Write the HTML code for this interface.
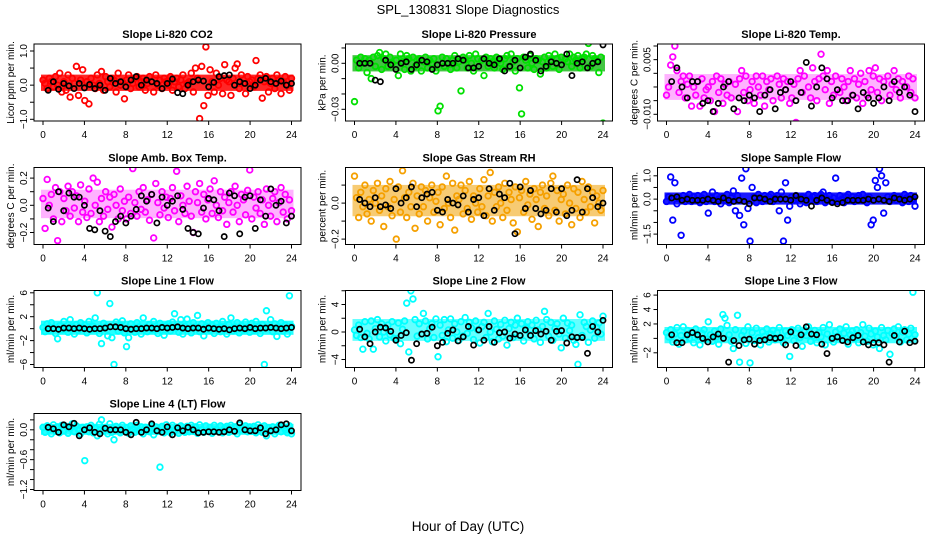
<!DOCTYPE html>
<html><head><meta charset="utf-8">
<style>
html,body{margin:0;padding:0;background:#fff;}
svg{display:block;font-family:"Liberation Sans",Arial,sans-serif;}
</style></head>
<body>
<svg id="chart" width="936" height="540" viewBox="0 0 936 540" xmlns="http://www.w3.org/2000/svg">
<rect x="0" y="0" width="936" height="540" fill="#fff"/>
<text x="468" y="14" text-anchor="middle" font-size="13">SPL_130831  Slope Diagnostics</text>
<text x="468" y="531" text-anchor="middle" font-size="13.5">Hour of Day (UTC)</text>
</svg>
<script>
// ---------- data ----------
const xTicks = [0,4,8,12,16,20,24];
const panelTitles = ["Slope Li-820 CO2","Slope Li-820 Pressure","Slope Li-820 Temp.","Slope Amb. Box Temp.","Slope Gas Stream RH","Slope Sample Flow","Slope Line 1 Flow","Slope Line 2 Flow","Slope Line 3 Flow","Slope Line 4 (LT) Flow"];
const yTitles = ["Licor ppm per min.","kPa per min.","degrees C per min.","degrees C per min.","percent per min.","ml/min per min.","ml/min per min.","ml/min per min.","ml/min per min.","ml/min per min."];
const yTickVals = [[-1,-0.5,0,0.5,1],[-0.03,-0.02,-0.01,0,0.01],[-0.010,-0.005,0,0.005,0.010,0.015],[-0.2,-0.1,0,0.1,0.2],[-0.2,-0.1,0,0.1],[-1.5,-1,-0.5,0,0.5,1],[-6,-4,-2,0,2,4,6],[-4,-2,0,2,4,6],[-2,0,2,4,6],[-1.2,-1,-0.8,-0.6,-0.4,-0.2,0,0.2]];
const yTickLabels = [["−1.0","","0.0","","1.0"],["−0.03","","","0.00",""],["−0.010","","","","0.005",""],["−0.2","","0.0","","0.2"],["−0.2","","0.0",""],["−1.5","","","0.0","","1.0"],["−6","","−2","","2","","6"],["−4","","0","","4",""],["−2","","2","4","6"],["−1.2","","","−0.6","","","0.0",""]];

const co2Color = [0.15,0.05,-0.1,0.2,0.1,-0.05,0.25,0.0,0.35,-0.2,0.1,-0.15,0.3,-0.35,0.2,0.05,0.55,-0.3,0.15,0.45,-0.45,0.1,-0.55,0.2,0.0,-0.1,0.3,0.05,0.4,-0.15,0.25,0.1,-0.05,0.2,0.15,-0.2,0.35,0.0,0.1,-0.4,0.15,0.3,-0.1,0.05,0.2,0.25,-0.05,0.1,0.2,-0.15,0.05,0.25,0.1,-0.2,0.3,0.0,0.15,-0.1,0.2,0.1,0.0,0.25,-0.15,0.1,0.2,-0.05,0.15,0.3,-0.1,0.05,0.1,0.35,-0.2,0.5,0.2,-0.98,0.55,-0.6,1.12,-0.3,0.45,0.1,-0.2,0.35,0.0,0.2,-0.25,0.6,0.15,0.1,-0.3,0.2,0.5,0.62,-0.1,0.3,0.05,-0.25,0.25,0.1,0.15,-0.05,0.72,0.2,0.3,-0.38,0.1,0.25,-0.2,0.05,0.2,-0.1,0.3,0.15,-0.25,0.1,0.25,0.0,-0.15,0.2];
const co2Black = [-0.15,0.1,-0.12,0.05,-0.02,-0.1,0.05,-0.08,0.02,-0.1,0.0,-0.15,0.2,0.05,0.1,-0.05,0.15,0.25,0.0,0.15,0.1,0.05,-0.1,0.05,0.18,-0.22,-0.25,0.0,0.1,0.15,0.12,-0.05,0.08,0.25,0.28,0.3,0.0,0.1,0.05,-0.1,0.0,0.15,0.2,0.1,0.05,0.12,0.0,0.05];
const presColor = [-0.025,0.002,-0.003,0.004,0.0,0.003,-0.006,0.002,-0.01,0.004,-0.002,0.005,0.007,-0.004,0.003,0.006,-0.002,0.004,0.0,-0.04,0.002,-0.008,0.006,0.001,-0.004,0.005,0.003,-0.005,0.004,-0.002,0.002,0.003,-0.005,0.001,0.004,-0.003,0.002,0.0,0.003,-0.005,-0.031,-0.028,0.004,-0.002,0.003,0.0,-0.004,0.002,0.005,-0.003,0.001,-0.018,0.004,0.002,-0.003,0.005,0.0,-0.005,0.006,0.003,-0.04,0.002,-0.008,0.004,-0.002,0.003,0.001,-0.003,0.004,0.002,0.0,-0.004,0.003,0.005,-0.002,0.006,0.001,-0.005,0.003,-0.016,-0.033,0.004,0.002,-0.003,0.005,0.0,-0.004,0.003,0.002,-0.007,0.001,0.004,-0.003,0.005,0.002,-0.002,0.006,0.003,-0.004,0.004,-0.04,0.003,0.001,0.006,-0.002,0.004,0.002,0.005,-0.003,0.003,0.004,0.006,0.013,-0.002,0.005,0.003,0.002,-0.006,0.004,-0.039];
const presBlack = [0.0,0.0,0.0,-0.011,-0.012,0.002,-0.001,-0.004,0.0,0.001,-0.004,-0.001,0.002,0.001,-0.004,-0.001,0.0,0.0,0.0,0.003,0.002,-0.003,-0.003,-0.002,0.003,0.0,-0.001,0.003,-0.005,-0.002,0.002,-0.003,0.004,0.006,0.002,-0.005,-0.002,0.001,0.0,-0.001,0.006,-0.008,0.0,0.001,-0.003,0.0,0.001,0.012];
const tempColor = [-0.003,0.0,0.008,0.011,0.015,0.006,-0.002,0.002,0.004,-0.004,0.001,0.004,-0.007,0.0,-0.003,0.002,-0.007,0.003,-0.004,-0.001,0.0,-0.005,0.002,-0.009,0.004,-0.002,0.003,-0.006,0.001,-0.003,0.002,-0.004,-0.015,0.001,-0.009,0.003,0.006,-0.002,0.004,-0.005,-0.001,0.002,-0.006,0.004,0.0,-0.003,0.004,-0.007,0.002,-0.001,0.003,-0.005,-0.015,0.004,0.001,-0.004,0.003,-0.001,0.002,-0.006,-0.004,0.001,-0.013,0.003,0.006,-0.002,0.004,-0.014,0.0,-0.004,0.007,0.002,-0.005,0.003,0.012,0.004,-0.001,0.006,-0.006,0.002,-0.003,0.004,-0.014,-0.002,0.003,0.0,-0.005,0.002,0.006,-0.003,0.003,-0.004,0.001,0.005,-0.006,0.002,-0.003,0.006,-0.001,0.004,0.007,-0.002,0.003,-0.005,0.002,-0.014,0.004,-0.003,0.001,0.006,-0.001,0.003,-0.004,0.002,-0.014,0.0,0.004,-0.002,0.003,-0.004];
const tempBlack = [0.002,0.007,0.0,-0.004,0.002,0.002,-0.006,-0.005,-0.009,-0.006,0.0,0.002,-0.008,-0.004,-0.005,-0.003,-0.004,-0.009,-0.003,-0.001,-0.008,-0.002,-0.001,0.002,-0.005,-0.002,0.009,-0.007,0.0,0.007,0.003,-0.004,-0.001,-0.005,-0.005,-0.003,-0.008,-0.002,-0.004,-0.006,-0.004,0.0,-0.005,0.002,-0.002,0.0,-0.003,-0.009];
const ambColor = [0.05,-0.17,0.19,0.0,0.08,-0.1,0.13,-0.26,0.1,-0.12,0.05,-0.04,0.14,-0.08,0.1,-0.02,0.07,-0.12,0.15,-0.05,0.03,-0.09,0.12,-0.06,0.2,0.0,0.17,-0.12,0.05,-0.08,0.1,-0.03,0.06,-0.16,0.08,0.0,-0.1,0.12,-0.04,0.03,-0.1,0.06,-0.06,0.27,0.02,-0.08,0.1,-0.03,0.13,-0.05,0.04,-0.11,0.08,-0.24,0.16,0.02,-0.07,0.1,-0.02,0.06,-0.09,0.05,0.13,-0.04,0.25,-0.12,0.07,0.0,-0.06,0.14,0.03,-0.08,-0.2,0.1,0.02,0.16,-0.05,0.08,-0.1,0.04,0.12,-0.06,0.18,0.0,-0.09,0.1,-0.04,0.06,-0.14,0.02,0.1,-0.05,0.14,0.0,-0.12,0.08,0.04,-0.07,0.11,0.26,-0.1,0.06,-0.02,0.1,-0.06,0.04,-0.14,0.12,0.0,-0.08,0.05,0.1,-0.12,0.02,0.13,-0.05,0.08,-0.1,0.04,-0.04];
const ambBlack = [-0.02,-0.12,0.1,-0.04,0.09,0.06,0.06,0.0,-0.17,-0.18,-0.04,-0.19,-0.23,-0.12,-0.08,-0.13,-0.08,-0.03,0.07,0.03,0.08,-0.13,0.06,0.0,0.03,0.07,-0.03,-0.17,-0.2,-0.21,-0.02,0.05,0.04,-0.04,-0.23,0.09,0.07,-0.21,0.06,0.07,-0.17,0.04,-0.08,0.12,0.0,0.03,-0.13,-0.08];
const rhColor = [0.15,0.03,-0.08,0.06,-0.02,0.1,-0.06,0.02,-0.1,0.07,0.0,0.11,-0.04,0.04,-0.13,0.08,-0.02,0.12,-0.07,0.02,-0.2,0.09,-0.05,0.18,0.03,-0.08,0.06,-0.02,0.11,-0.14,0.04,-0.06,0.09,-0.02,0.07,-0.1,0.03,0.1,-0.05,0.01,0.06,-0.12,0.09,-0.03,0.15,0.0,-0.08,0.11,-0.15,0.04,0.02,0.1,-0.06,0.07,-0.03,0.12,-0.09,0.04,0.0,-0.05,0.08,-0.02,0.13,-0.07,0.04,0.17,-0.1,0.06,-0.02,0.09,0.0,-0.08,0.11,-0.04,0.06,0.02,-0.11,0.09,-0.16,0.03,0.07,-0.05,0.12,-0.01,0.05,-0.09,0.08,0.02,-0.13,0.06,0.1,-0.03,0.04,-0.07,0.11,0.15,-0.04,0.07,-0.1,0.02,0.05,-0.06,0.1,0.0,-0.12,0.08,-0.03,0.06,-0.08,0.12,0.02,-0.05,0.09,-0.02,0.06,-0.11,0.04,0.0,-0.04,0.07];
const rhBlack = [0.02,0.0,-0.02,0.03,-0.02,-0.01,-0.03,0.08,0.0,0.03,0.09,-0.02,0.03,0.05,0.06,-0.04,-0.05,0.02,0.0,-0.01,0.04,-0.05,0.02,0.03,-0.07,0.08,-0.04,0.05,0.03,0.11,-0.17,0.09,-0.03,0.07,-0.03,-0.06,-0.04,0.08,-0.05,0.08,-0.07,-0.04,0.13,-0.05,0.08,0.03,-0.02,0.0];
const sampColor = [-0.1,0.1,0.95,-0.9,0.7,-0.2,0.05,-1.55,0.15,-0.1,0.05,0.2,-0.1,0.1,-0.05,0.15,-0.15,0.05,0.2,-0.1,-0.6,0.05,0.3,-0.1,0.15,0.0,-0.2,0.1,-0.05,0.2,-0.15,0.05,0.35,-0.5,0.15,-0.7,0.9,-1.1,1.3,-0.4,-1.8,0.5,0.1,-0.15,0.2,0.0,-0.1,0.15,-0.05,0.1,0.2,-0.1,0.05,0.15,-0.5,0.3,-1.8,0.7,-0.9,-0.3,0.1,-0.05,0.15,0.0,-0.2,0.1,0.05,-0.15,0.2,-0.05,0.1,0.15,-0.1,0.05,0.2,0.3,-0.15,0.0,0.15,-0.1,0.05,0.9,-0.1,0.15,0.0,-0.15,0.1,0.2,-0.05,0.1,-0.1,0.05,0.15,-0.05,0.2,0.0,-0.15,0.1,-1.1,-0.9,0.8,0.5,1.3,1.0,-0.6,0.7,0.1,-0.1,0.05,0.15,-0.05,0.1,0.0,-0.15,0.2,0.05,-0.1,0.15,0.0,-0.3];
const sampBlack = [0.05,0.1,-0.05,0.0,-0.05,-0.05,-0.05,0.0,-0.05,-0.1,0.05,-0.05,-0.1,-0.05,-0.1,-0.2,0.05,0.05,0.0,-0.1,0.0,0.0,0.0,-0.05,0.15,0.0,-0.05,-0.3,-0.05,0.05,-0.05,-0.15,-0.2,-0.15,-0.05,-0.05,-0.05,-0.05,0.0,-0.05,0.0,-0.05,-0.1,0.05,0.0,-0.05,0.0,0.1];
const l1Color = [0.2,-0.5,0.8,-0.3,1.0,0.1,-0.8,-1.7,0.5,-0.2,1.2,0.0,-0.6,1.5,0.3,-0.9,0.7,-0.3,1.0,0.2,0.6,-0.7,1.2,-0.2,0.4,1.8,6.0,-0.8,-2.5,0.9,0.3,-1.2,4.2,-1.5,-6.0,1.1,-0.4,0.6,1.3,-0.7,-3.0,-1.5,0.8,0.0,-0.6,1.0,0.3,-0.9,1.8,0.2,-0.5,0.7,-0.2,1.2,0.0,-0.8,0.9,0.3,-1.1,0.5,0.8,-0.4,1.1,2.5,0.2,-0.6,1.5,-0.9,0.4,1.6,0.0,-0.7,1.0,0.3,2.2,-0.5,0.8,-1.2,0.4,1.0,-0.3,0.6,-0.8,0.9,0.2,-0.5,1.2,0.0,-0.9,0.7,1.8,-0.4,0.3,1.0,-0.7,0.5,-0.2,1.1,0.0,-0.6,0.9,-0.3,1.2,0.4,-0.8,0.7,-6.0,3.0,0.2,1.5,-0.5,0.8,-1.3,0.3,1.0,-0.4,0.6,-0.9,5.5,0.4];
const l1Black = [0,0,-0.1,0.1,0.1,0.0,0.1,0.0,-0.1,0.0,0.0,0.1,0.3,0.3,0.2,0.0,-0.1,0.0,0.0,0.1,0.1,0.0,0.2,0.1,0.2,0.3,0.1,0.0,0.1,0.1,-0.1,0.1,0.0,-0.1,0.0,-0.2,0.0,0.1,0.0,0.2,0.0,0.1,0.1,0.2,0.1,0.0,0.1,0.2];
const l2Color = [0.3,-0.5,1.0,-0.8,-2.5,1.5,-0.2,-1.0,1.6,-2.5,0.5,1.8,-0.7,1.2,0.0,-1.3,1.0,-0.4,1.5,-0.9,-1.0,1.3,-1.7,0.4,1.6,4.2,-2.9,6.0,4.8,1.8,-0.6,1.2,-0.3,2.7,1.6,-1.0,0.5,1.2,-0.8,1.9,-3.6,1.0,-0.5,1.8,-1.4,0.3,1.9,-0.9,1.2,0.0,-1.2,1.5,-0.6,2.1,-0.2,1.4,0.6,-1.1,1.6,0.3,-1.6,0.8,1.4,-0.8,2.7,0.0,-1.4,1.6,0.4,-1.0,1.1,-0.6,1.7,-1.9,0.5,1.4,-0.8,1.0,2.0,-0.5,1.2,-1.3,0.6,1.5,-0.4,1.0,-1.0,1.7,0.3,-1.5,0.8,3.0,1.8,-0.6,1.4,-1.2,0.5,1.2,-0.3,-2.3,2.0,-0.9,1.3,0.2,1.0,-1.2,-1.8,-4.7,2.5,-0.5,1.4,0.8,-1.5,0.3,1.6,-0.9,0.7,1.3,-0.3,2.3];
const l2Black = [0.4,-0.7,-1.7,0.0,0.7,0.6,0.1,-1.2,-0.5,-0.1,-4.1,-1.7,-0.3,-0.2,0.7,-2.0,-1.5,-0.2,0.3,-1.3,-0.7,0.8,-1.9,0.3,-1.2,0.8,-1.5,-0.1,0.0,-0.9,-0.3,-0.5,0.3,-0.5,0.2,-0.3,0.1,-1.2,0.1,0.2,-1.6,-0.7,-0.8,-0.8,-3.1,0.8,0.0,1.7];
const l3Color = [0.8,0.2,1.2,-0.5,0.6,1.5,-0.8,0.4,1.6,-0.2,1.1,0.0,0.9,-0.6,1.3,0.3,-0.9,0.7,1.2,-0.1,2.3,0.5,-0.4,1.0,0.2,-0.8,1.3,3.3,2.8,1.8,0.5,-0.4,-1.4,1.2,3.2,-3.3,0.4,1.0,-0.7,1.6,-3.4,0.8,-0.3,1.4,0.1,-0.9,0.9,0.3,1.3,-0.5,0.6,1.1,-0.2,0.8,1.5,0.0,-0.6,1.0,0.4,-2.5,1.2,-0.3,0.7,1.4,0.1,-1.1,0.9,0.4,1.6,-0.4,0.3,1.1,-0.6,0.8,0.2,1.5,-0.9,0.6,1.9,0.0,-0.5,0.9,0.3,1.3,-0.2,0.7,1.6,-0.8,0.5,1.0,0.0,1.2,-0.6,0.8,1.9,0.3,-0.4,1.4,0.6,-0.9,1.0,0.2,-1.4,1.5,0.4,-0.2,1.1,-2.2,0.7,1.3,0.3,1.6,-0.5,0.9,1.2,-0.2,0.6,1.4,6.4,0.5];
const l3Black = [0.5,-0.6,-0.6,0.5,0.8,0.5,0.0,-0.5,0.2,0.6,0.0,-3.3,-0.3,-1.0,-0.2,-0.1,-0.8,-0.3,-0.2,0.1,0.0,0.1,-0.9,0.9,-1.0,0.5,1.6,0.6,0.5,-0.8,-2.1,0.0,0.2,-0.3,-0.5,0.1,0.4,-0.5,-0.9,-0.6,-0.6,-0.9,-3.3,0.4,-0.5,1.0,-0.6,-0.4];
const l4Color = [0.05,-0.05,0.08,0.0,-0.08,0.1,-0.03,0.06,-0.06,0.09,-0.02,0.07,-0.07,0.03,0.12,-0.04,0.08,0.0,-0.08,0.05,-0.62,0.06,-0.04,0.09,-0.06,0.03,-0.12,0.11,0.2,-0.02,0.05,-0.08,0.12,-0.05,-0.2,0.07,0.0,-0.06,0.09,-0.03,0.04,-0.07,0.08,0.01,-0.05,0.09,-0.02,0.06,-0.08,0.05,0.0,-0.04,0.08,-0.1,0.06,-0.03,-0.75,0.07,-0.06,0.1,0.02,-0.06,0.09,-0.02,0.05,-0.07,0.08,0.0,-0.05,0.07,-0.04,0.09,-0.03,0.06,-0.07,0.1,0.0,-0.05,0.08,-0.02,0.05,-0.07,0.09,0.01,-0.04,0.08,-0.06,0.03,0.07,-0.05,0.09,-0.02,0.06,-0.08,0.1,0.0,-1.3,0.08,-0.04,0.06,-0.03,0.07,-0.06,0.1,0.02,-0.05,0.08,-0.12,0.04,-0.02,0.06,-0.08,0.03,0.09,-0.04,0.07,0.0,-0.06,0.08,-0.08];
const l4Black = [0.05,0.02,-0.05,0.1,0.06,0.13,-0.12,0.0,0.04,-0.05,-0.08,0.03,0.0,0.0,0.0,-0.05,-0.1,0.15,-0.05,0.0,0.12,-0.02,-0.05,0.06,-0.1,0.04,-0.02,0.05,0.0,-0.06,-0.05,-0.04,-0.04,-0.05,-0.04,0.0,-0.03,0.14,0.0,-0.02,-0.02,0.04,-0.08,-0.02,0.0,0.1,0.12,-0.02];

const colorSeries = [co2Color,presColor,tempColor,ambColor,rhColor,sampColor,l1Color,l2Color,l3Color,l4Color];
const blackSeries = [co2Black,presBlack,tempBlack,ambBlack,rhBlack,sampBlack,l1Black,l2Black,l3Black,l4Black];
const seriesColors = ["#ff0000","#00e000","#ff00ff","#ff00ff","#f5a000","#0000ff","#00ffff","#00ffff","#00ffff","#00ffff"];
const bandColors = ["#ff0000","#22bb22","#ff00ff","#ff00ff","#f0a000","#0000ff","#00ffff","#00ffff","#00ffff","#00ffff"];
const bandOpacity = [0.85,0.85,0.3,0.3,0.55,0.9,0.85,0.6,0.75,0.85];

// ---------- layout (pixel calibration, not data) ----------
const colLeft = [34,345.5,657.5];
const rowTop = [44,167.5,290.5,413.5];
const boxW = 267, boxH = 77;
const yCal = [[1,7,-1,75.3],[0,19.3,-0.03,65.3],[0.015,2,-0.010,70.3],[0.2,10.6,-0.2,65],[0,35.6,-0.2,71.6],[1,8.3,-1.5,66.6],[6,2.3,-6,74],[4,14,-4,69],[6,4.6,-2,62.3],[0,16.3,-1.2,76]];

const NS = "http://www.w3.org/2000/svg";
const svg = document.getElementById('chart');
function mk(tag, attrs, parent){
  const e = document.createElementNS(NS, tag);
  for (const k in attrs) e.setAttribute(k, attrs[k]);
  (parent||svg).appendChild(e);
  return e;
}
function quantile(arr, q){
  const s = arr.slice().sort((a,b)=>a-b);
  const pos = (s.length-1)*q, lo = Math.floor(pos), hi = Math.ceil(pos);
  return s[lo] + (s[hi]-s[lo])*(pos-lo);
}

for (let p=0; p<10; p++){
  const L = colLeft[p%3], T = rowTop[Math.floor(p/3)];
  const xs = h => L + 9 + h*(248.5/24);
  const c = yCal[p];
  const ys = v => T + c[1] + (v - c[0])*(c[3]-c[1])/(c[2]-c[0]);
  const g = mk('g', {});
  
  

  const clip = mk('clipPath', {id:'clip'+p}, g);
  mk('rect', {x:L, y:T, width:boxW, height:boxH}, clip);

  const title = mk('text', {x:L+boxW/2, y:T-6, 'text-anchor':'middle', 'font-size':'11', 'font-weight':'bold'}, g);
  title.textContent = panelTitles[p];
  
  

  const yt = mk('text', {x:0, y:0, 'text-anchor':'middle', 'font-size':'10', transform:`translate(${L-20},${T+boxH/2}) rotate(-90)`}, g);
  yt.textContent = yTitles[p];
  
  

  const pts = mk('g', {'clip-path':`url(#clip${p})`, fill:'none'}, g);
  
  
  const cs = colorSeries[p];
  const qLo = quantile(cs, 0.2), qHi = quantile(cs, 0.8);
  const band = mk('rect', {x:xs(0)-2, y:ys(qHi)-2, width:xs(24)-xs(0)+4, height:ys(qLo)-ys(qHi)+4, fill:bandColors[p], opacity:bandOpacity[p]}, pts);
  
  
  cs.forEach((v,i)=>{
    const t = i*24/(cs.length-1);
    const pt = mk('circle', {cx:xs(t), cy:ys(v), r:2.8, stroke:seriesColors[p], 'stroke-width':1.8}, pts);
    
    
  });
  const bs = blackSeries[p];
  bs.forEach((v,i)=>{
    const t = (i+1)*24/bs.length;
    const pt = mk('circle', {cx:xs(t), cy:ys(v), r:2.6, stroke:'#000', 'stroke-width':1.7}, pts);
    
    
  });

  const box = mk('rect', {x:L, y:T, width:boxW, height:boxH, fill:'none', stroke:'#000', 'stroke-width':1}, g);
  
  

  xTicks.forEach(h=>{
    mk('line', {x1:xs(h), x2:xs(h), y1:T+boxH, y2:T+boxH+4, stroke:'#000'}, g);
    const tl = mk('text', {x:xs(h), y:T+boxH+17, 'text-anchor':'middle', 'font-size':'10'}, g);
    tl.textContent = h;
    
    
  });
  yTickVals[p].forEach((v,i)=>{
    const yy = ys(v);
    if (yy < T-0.5 || yy > T+boxH+0.5) return;
    mk('line', {x1:L-4, x2:L, y1:yy, y2:yy, stroke:'#000'}, g);
    const lab = yTickLabels[p][i];
    if (lab){
      const tl = mk('text', {x:0, y:0, 'text-anchor':'middle', 'font-size':'10', transform:`translate(${L-7},${yy}) rotate(-90)`}, g);
      tl.textContent = lab;
      
      
    }
  });
}
</script>
</body></html>
